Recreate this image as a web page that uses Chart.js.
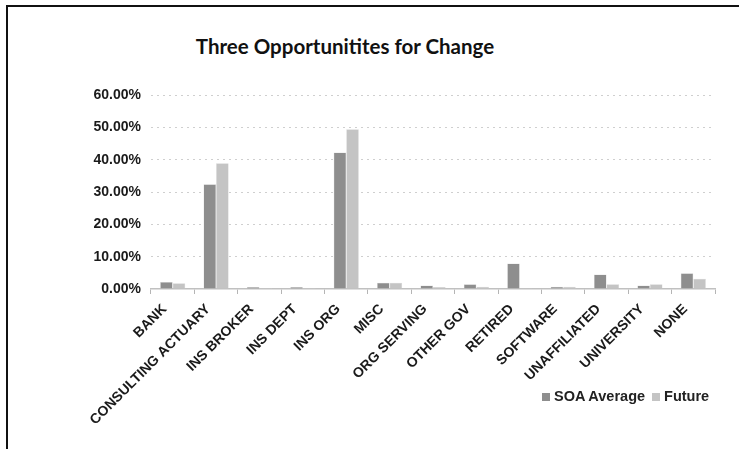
<!DOCTYPE html>
<html>
<head>
<meta charset="utf-8">
<title>Three Opportunitites for Change</title>
<script src="https://cdn.jsdelivr.net/npm/chart.js@4/dist/chart.umd.min.js"></script>
<style>
  html, body { margin: 0; padding: 0; background: #fff; }
  #wrap { position: relative; width: 741px; height: 449px; overflow: hidden; }
  #frame {
    position: absolute; left: 6px; top: 5px; width: 731px; height: 460px;
    border-top: 2px solid #111; border-left: 2px solid #111;
  }
  #title {
    position: absolute; left: 0; width: 690px; top: 34px; text-align: center;
    font-family: Lato, "Noto Sans", sans-serif; font-weight: 700; font-size: 20.5px; color: #111;
  }
  #legend {
    position: absolute; left: 542px; top: 388px;
    font-family: "Liberation Sans", Arial, sans-serif; font-weight: 700; font-size: 14.5px; color: #222;
  }
  #legend span.box { display: inline-block; width: 8px; height: 8px; margin-right: 4px; }
  #legend span.item { margin-right: 7px; }
  canvas { position: absolute; left: 0; top: 0; }
</style>
</head>
<body>
<div id="wrap">
  <div id="frame"></div>
  <div id="title">Three Opportunitites for Change</div>
  <canvas id="bar-chart" width="741" height="449"></canvas>
  <div id="legend"></div>
</div>
<script>
const categories = [
  'BANK', 'CONSULTING ACTUARY', 'INS BROKER', 'INS DEPT', 'INS ORG', 'MISC',
  'ORG SERVING', 'OTHER GOV', 'RETIRED', 'SOFTWARE', 'UNAFFILIATED', 'UNIVERSITY', 'NONE'
];
const soaAverage = [2.2, 32.4, 0.6, 0.6, 42.2, 1.9, 1.1, 1.5, 7.9, 0.7, 4.5, 1.1, 4.9];
const future     = [1.8, 38.9, 0.3, 0.3, 49.4, 1.9, 0.6, 0.7, 0.2, 0.7, 1.5, 1.5, 3.2];
const seriesNames = ['SOA Average', 'Future'];
const seriesColors = ['#8e8e8e', '#c4c4c4'];
const yTicks = [0, 10, 20, 30, 40, 50, 60];

const labelFont = { family: '"Liberation Sans", Arial, sans-serif', weight: 'bold', size: 14 };

const ctx = document.getElementById('bar-chart');

new Chart(ctx, {
  type: 'bar',
  data: {
    labels: categories,
    datasets: [soaAverage, future].map((values, i) => ({
      label: seriesNames[i],
      data: values,
      backgroundColor: seriesColors[i],
      borderColor: '#d6d6d6',
      borderWidth: 0.5,
      categoryPercentage: 0.58,
      barPercentage: 1
    }))
  },
  options: {
    responsive: false,
    animation: false,
    layout: { padding: { top: 95, right: 26, bottom: 10, left: 0 } },
    plugins: {
      legend: { display: false },
      title: { display: false },
      tooltip: { enabled: false }
    },
    scales: {
      x: {
        afterFit: scale => { scale.height = 150; },
        grid: { drawOnChartArea: false, drawTicks: true, tickLength: 5, color: '#b5b5b5' },
        border: { display: true, color: '#c0c0c0', width: 1.5 },
        ticks: {
          autoSkip: false, maxRotation: 45, minRotation: 45,
          padding: 7, labelOffset: -8, color: '#1a1a1a', font: labelFont
        }
      },
      y: {
        min: yTicks[0],
        max: yTicks[yTicks.length - 1],
        afterFit: scale => { scale.width = 151; },
        afterBuildTicks: scale => { scale.ticks = yTicks.map(v => ({ value: v })); },
        grid: {
          drawTicks: false,
          color: ctx => ctx.tick && ctx.tick.value === 0 ? 'rgba(0,0,0,0)' : '#cfcfcf',
          lineWidth: 1
        },
        border: { display: false, dash: [2, 4] },
        ticks: {
          padding: 10, color: '#1a1a1a', font: labelFont,
          callback: v => v.toFixed(2) + '%'
        }
      }
    }
  }
});

// legend row below the plot, right side
document.getElementById('legend').innerHTML = seriesNames.map((name, i) =>
  '<span class="item"><span class="box" style="background:' + seriesColors[i] + '"></span>' + name + '</span>'
).join('');
</script>
</body>
</html>
